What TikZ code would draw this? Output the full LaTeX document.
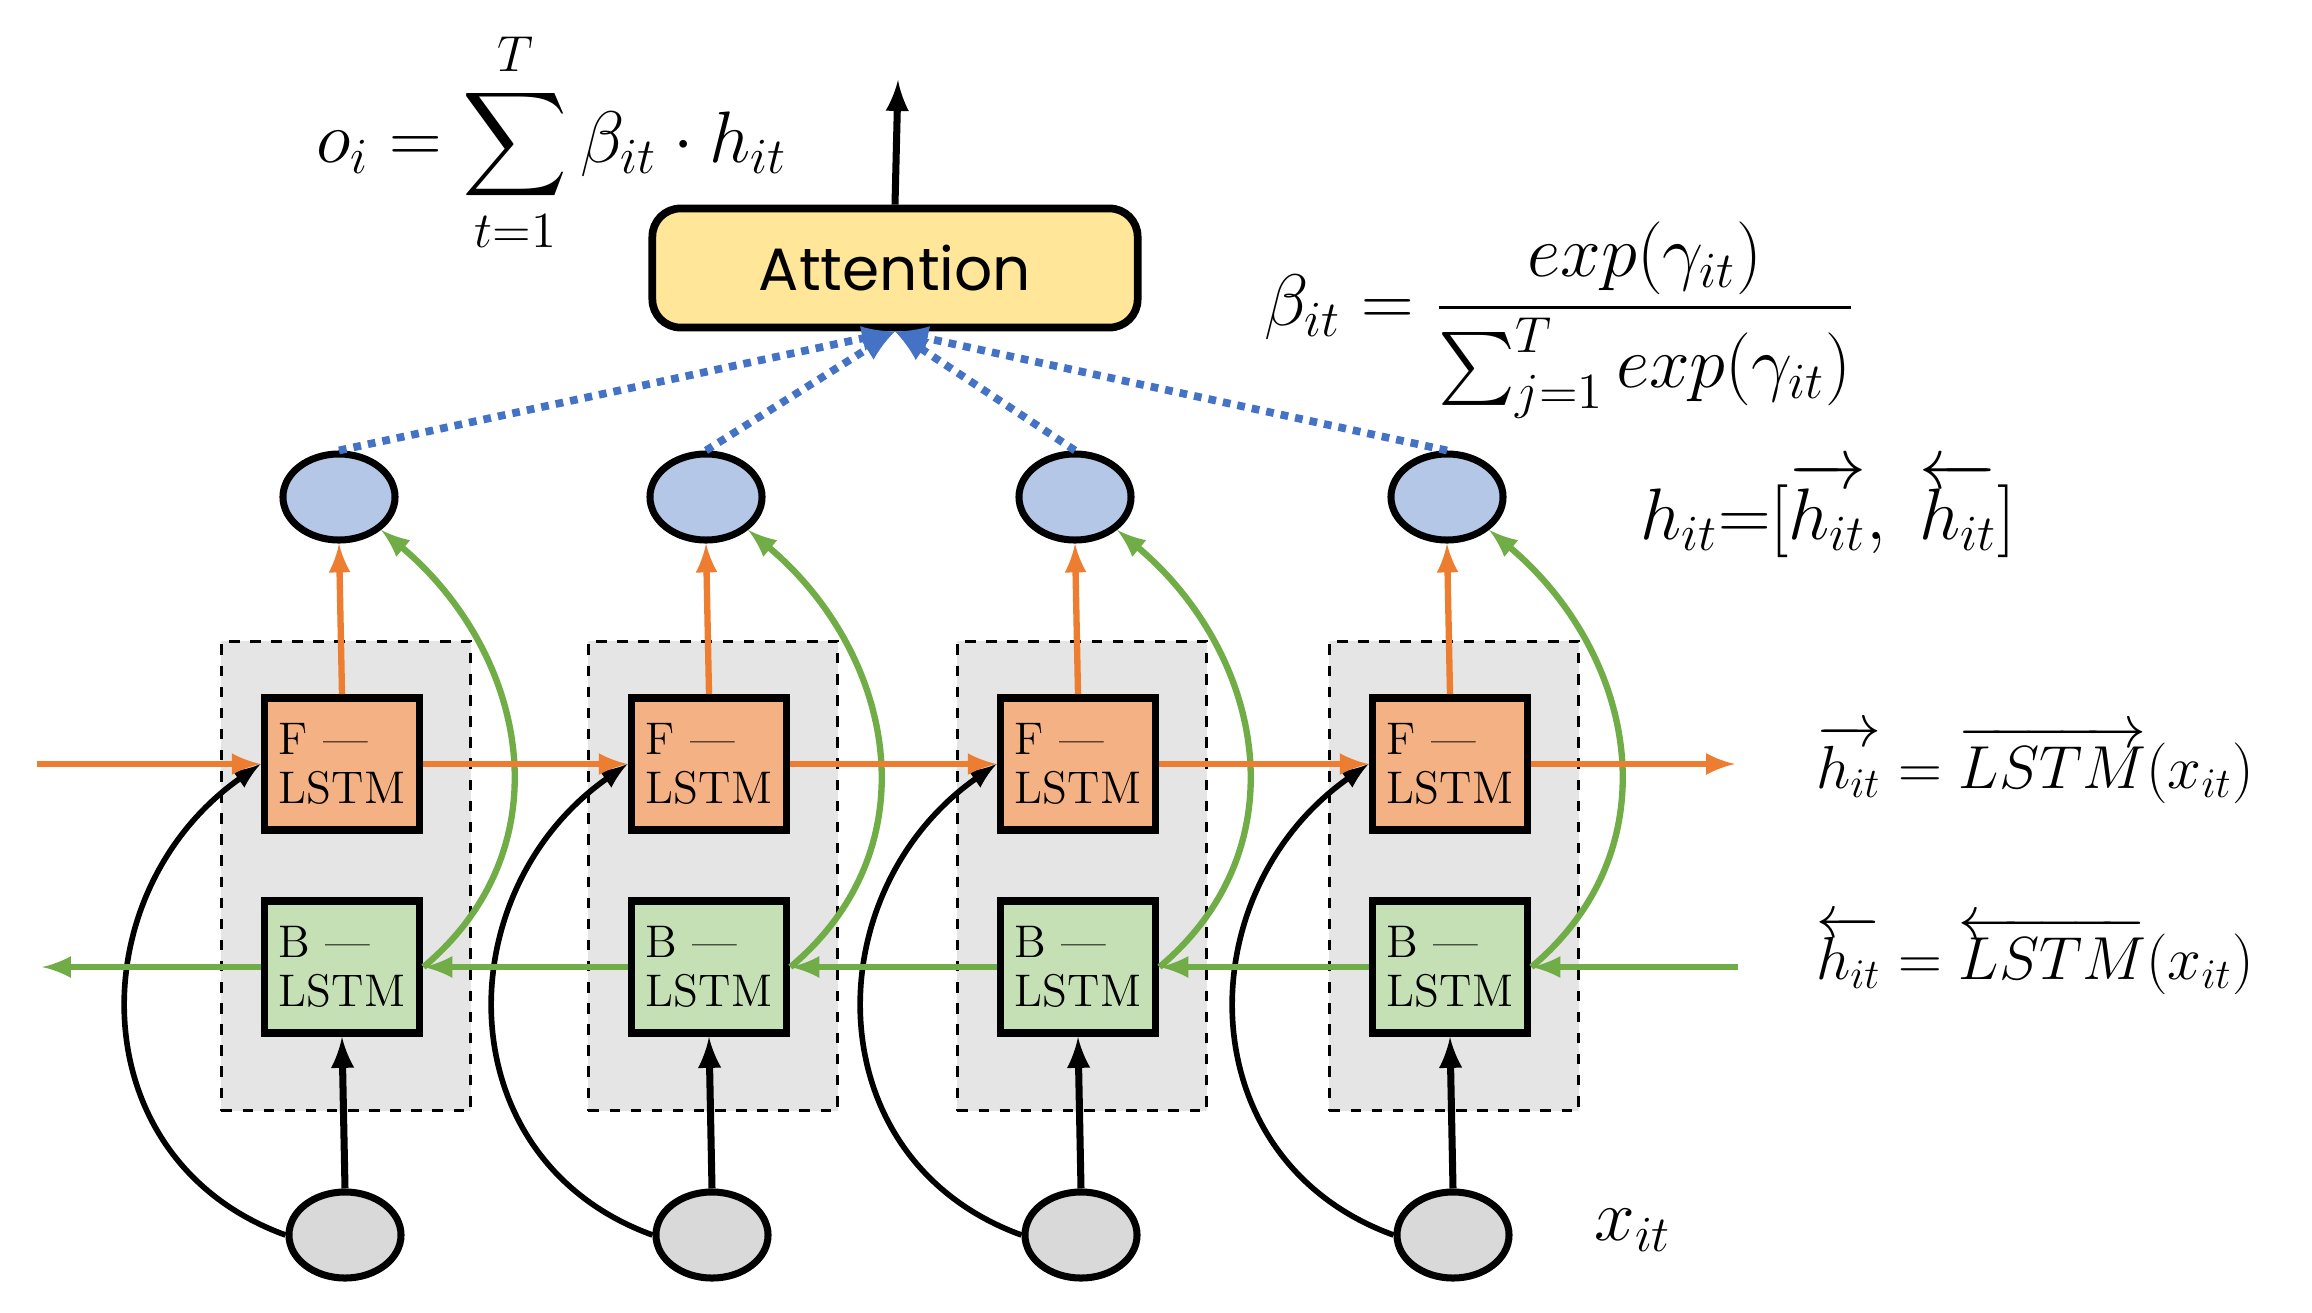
\documentclass[tikz,border=0pt]{standalone}
\usepackage{amsmath}
\usepackage{fontspec}
\newfontfamily\attfont{Poppins}
\usetikzlibrary{positioning,shapes.geometric}
\definecolor{fcol}{HTML}{F4B183}
\definecolor{bcol}{HTML}{C5E0B4}
\definecolor{hcol}{HTML}{B4C7E7}
\definecolor{ocol}{HTML}{ED7D31}
\definecolor{gcol}{HTML}{70AD47}
\definecolor{dcol}{HTML}{4472C4}
\definecolor{acol}{HTML}{FFE699}
\begin{document}
\begin{tikzpicture}
	[x=0.01cm,y=-0.01cm,
	cell/.style={rectangle,draw,line width=2.2pt,minimum width=1.55cm,minimum height=1.32cm,align=left,inner sep=2pt,font=\fontsize{13}{14}\selectfont},
	fcell/.style={cell,fill=fcol},bcell/.style={cell,fill=bcol},
	hid/.style={ellipse,draw,line width=2pt,fill=hcol,minimum width=1.12cm,minimum height=0.86cm,inner sep=0pt},
	inp/.style={ellipse,draw,line width=2pt,fill=gray!30,minimum width=1.12cm,minimum height=0.86cm,inner sep=0pt},
	unit/.style={rectangle,draw,dashed,line width=1pt,fill=gray!20,minimum width=2.49cm,minimum height=4.69cm},
	fw/.style={->,ocol,line width=1.8pt,>=latex},bw/.style={->,gcol,line width=1.8pt,>=latex},
	att/.style={->,dcol,dotted,line width=2.2pt,>=latex},
	eq/.style={font=\fontsize{20}{24}\selectfont}]
	\useasboundingbox (0,0) rectangle (2312,1312);
	% attention block
	\node[rectangle,rounded corners=8pt,draw,line width=2.2pt,fill=acol,minimum width=4.85cm,minimum height=1.19cm,font=\attfont\fontsize{17}{20}\selectfont] (att) at (895,268) {Attention};
	\coordinate (out) at (898,80);
	\draw[->,line width=2pt,>=latex] (att.north) -- (out);
	% columns
	\foreach \i/\x in {1/342,2/709,3/1078,4/1450}{
		\node[unit] (u\i) at (\x+4,876) {};
		\node[fcell] (f\i) at (\x,764) {F ---\\LSTM};
		\node[bcell] (b\i) at (\x,967) {B ---\\LSTM};
		\node[hid] (h\i) at (\x-3,497) {};
		\node[inp] (x\i) at (\x+3,1235) {};
		\draw[fw] (f\i.north) -- (h\i.south);
		\draw[bw] (b\i.east) to[out=40,in=-40,looseness=1.1] (h\i.south east);
		\draw[->,line width=2pt,>=latex] (x\i.north) -- (b\i.south);
		\draw[->,line width=1.6pt,>=latex] (x\i.west) to[out=160,in=215,looseness=1.2] (f\i.west);
		\draw[att] (h\i.north) -- (att.south);
	}
	% recurrent chains
	\coordinate (fin) at (37,764);
	\coordinate (fout) at (1735,764);
	\coordinate (bin) at (1738,967);
	\coordinate (bout) at (42,967);
	\draw[fw] (fin) -- (f1.west);
	\draw[fw] (f1.east) -- (f2.west);
	\draw[fw] (f2.east) -- (f3.west);
	\draw[fw] (f3.east) -- (f4.west);
	\draw[fw] (f4.east) -- (fout);
	\draw[bw] (bin) -- (b4.east);
	\draw[bw] (b4.west) -- (b3.east);
	\draw[bw] (b3.west) -- (b2.east);
	\draw[bw] (b2.west) -- (b1.east);
	\draw[bw] (b1.west) -- (bout);
	% equations
	\node[eq] (osum) at (552,142) {$o_i=\displaystyle\sum_{t=1}^{T}\beta_{it}\cdot h_{it}$};
	\node[eq] (beta) at (1560,320) {$\beta_{it}=\dfrac{exp(\gamma_{it})}{\sum_{j=1}^{T}exp(\gamma_{it})}$};
	\node[eq] (hcat) at (1828,510) {$h_{it}{=}[\overrightarrow{h_{it}},\ \overleftarrow{h_{it}}]$};
	\node[eq,font=\fontsize{18}{22}\selectfont] (feq) at (2035,764) {$\overrightarrow{h_{it}}=\overrightarrow{LSTM}(x_{it})$};
	\node[eq,font=\fontsize{18}{22}\selectfont] (beq) at (2035,955) {$\overleftarrow{h_{it}}=\overleftarrow{LSTM}(x_{it})$};
	\node[eq] (xlab) at (1633,1230) {$x_{it}$};
\end{tikzpicture}
\end{document}
